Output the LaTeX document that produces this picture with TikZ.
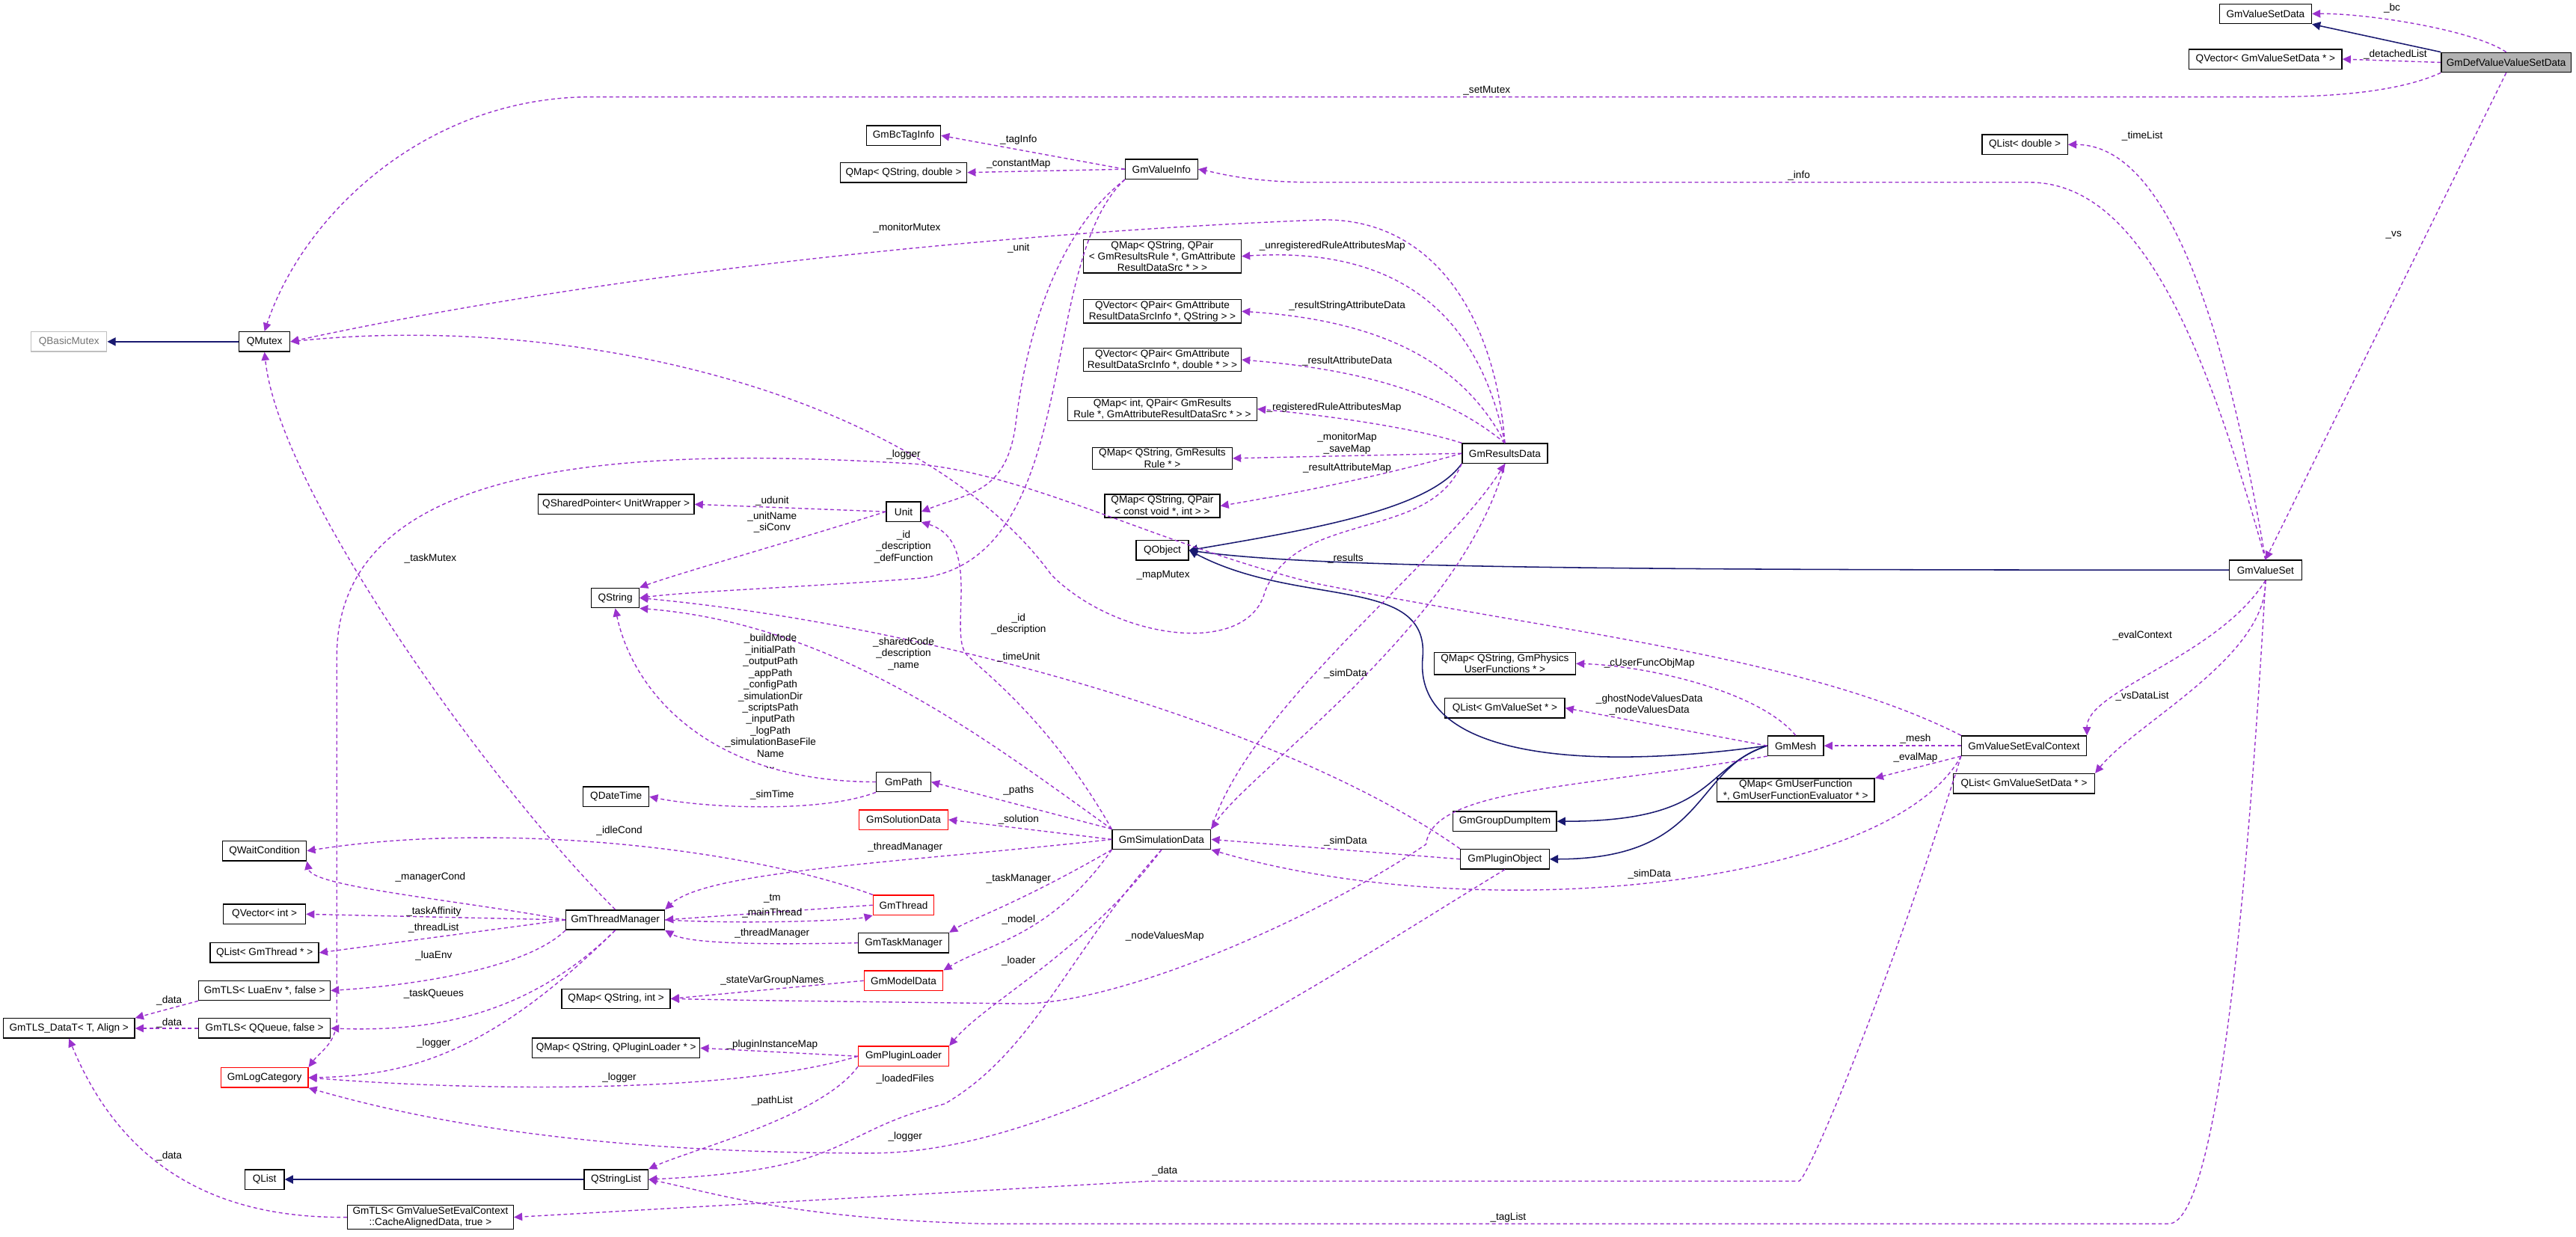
\documentclass[tikz,border=0pt]{standalone}
\usepackage{fontspec}
\setmainfont{Liberation Sans}
\usepackage{tikz}
\usetikzlibrary{arrows.meta}
\definecolor{memc}{HTML}{9A32CD}
\definecolor{inhc}{HTML}{191970}
\tikzset{
  cls/.style={draw=black, fill=white, inner sep=0.6pt, minimum height=0.3cm, align=center,
    font=\fontsize{4.4}{5}\selectfont, line width=0.45pt},
  redcls/.style={cls, draw=red},
  graycls/.style={cls, draw=black!25, text=black!55},
  curcls/.style={cls, fill=black!30},
  w/.style={minimum width=#1*0.025cm},
  mem/.style={draw=memc, dash pattern=on 1.6pt off 1.2pt, line width=0.45pt,
    -{Triangle[length=3.6pt,width=3.4pt]}},
  inh/.style={draw=inhc, line width=0.5pt, -{Triangle[length=3.6pt,width=3.6pt]}},
  lbl/.style={inner sep=0pt, align=center, font=\fontsize{4.4}{5}\selectfont}
}
\begin{document}
\begin{tikzpicture}[x=0.025cm, y=-0.025cm]
  \useasboundingbox (0,0) rectangle (1568,752.6);

  % ---------- Classes ----------
  \node[curcls, w=79] (defvsd) at (1525.5,38) {GmDefValueValueSetData};
  \node[cls, w=56] (vsdata) at (1379,8.4) {GmValueSetData};
  \node[cls, w=93] (qvecvsd) at (1379,36) {QVector< GmValueSetData * >};
  \node[cls, w=52] (qlistdbl) at (1232.5,88) {QList< double >};
  \node[cls, w=44] (valset) at (1379,347) {GmValueSet};
  \node[cls, w=52] (resdata) at (916,276) {GmResultsData};
  \node[cls, w=44] (valinfo) at (707,103) {GmValueInfo};
  \node[cls, w=45] (bctag) at (550,82.5) {GmBcTagInfo};
  \node[cls, w=77] (mapqsdbl) at (550,105) {QMap< QString, double >};
  \node[cls, w=96] (mapunreg) at (707.5,156) {QMap< QString, QPair\\< GmResultsRule *, GmAttribute\\ResultDataSrc * > >};
  \node[cls, w=96] (vecstr) at (707.5,189.5) {QVector< QPair< GmAttribute\\ResultDataSrcInfo *, QString > >};
  \node[cls, w=96] (vecdbl) at (707.5,219) {QVector< QPair< GmAttribute\\ResultDataSrcInfo *, double * > >};
  \node[cls, w=115] (mapreg) at (707.5,249) {QMap< int, QPair< GmResults\\Rule *, GmAttributeResultDataSrc * > >};
  \node[cls, w=85] (maprule) at (707.5,279) {QMap< QString, GmResults\\Rule * >};
  \node[cls, w=70] (mapvoid) at (707.5,308) {QMap< QString, QPair\\< const void *, int > >};
  \node[cls, w=32] (qobject) at (707.5,335) {QObject};
  \node[cls, w=31] (qmutex) at (161,208) {QMutex};
  \node[graycls, w=46] (qbasicmutex) at (42,208) {QBasicMutex};
  \node[cls, w=95] (qsptr) at (375,307) {QSharedPointer< UnitWrapper >};
  \node[cls, w=21] (unit) at (550,311.5) {Unit};
  \node[cls, w=29] (qstring) at (374.5,364) {QString};
  \node[cls, w=33] (gmpath) at (550,476) {GmPath};
  \node[cls, w=40] (qdatetime) at (375,485) {QDateTime};
  \node[redcls, w=54] (soldata) at (550,499) {GmSolutionData};
  \node[cls, w=60] (simdata) at (707,511) {GmSimulationData};
  \node[cls, w=51] (qwaitcond) at (161,518) {QWaitCondition};
  \node[redcls, w=37] (gmthread) at (550,551) {GmThread};
  \node[cls, w=60] (thrmgr) at (374.5,560) {GmThreadManager};
  \node[cls, w=50] (qvecint) at (161,556.5) {QVector< int >};
  \node[cls, w=55] (taskmgr) at (550,574) {GmTaskManager};
  \node[cls, w=66] (qlistthr) at (161,580) {QList< GmThread * >};
  \node[cls, w=80] (tlslua) at (161,603) {GmTLS< LuaEnv *, false >};
  \node[redcls, w=48] (modeldata) at (550,597) {GmModelData};
  \node[cls, w=66] (mapqsint) at (375,608) {QMap< QString, int >};
  \node[cls, w=80] (tlsdatat) at (42,626) {GmTLS\_DataT< T, Align >};
  \node[cls, w=80] (tlsqueue) at (161,626) {GmTLS< QQueue, false >};
  \node[cls, w=102] (mapplugin) at (375,638) {QMap< QString, QPluginLoader * >};
  \node[redcls, w=55] (pluginloader) at (550,643) {GmPluginLoader};
  \node[redcls, w=53] (logcat) at (161,656) {GmLogCategory};
  \node[cls, w=24] (qlist) at (161,718) {QList};
  \node[cls, w=39] (qstrlist) at (375,718) {QStringList};
  \node[cls, w=101] (tlseval) at (262,741) {GmTLS< GmValueSetEvalContext\\::CacheAlignedData, true >};
  \node[cls, w=86] (mapphys) at (916,404) {QMap< QString, GmPhysics\\UserFunctions * >};
  \node[cls, w=73] (qlistvs) at (916,431) {QList< GmValueSet * >};
  \node[cls, w=34] (gmmesh) at (1093,454) {GmMesh};
  \node[cls, w=76] (evalctx) at (1232,454) {GmValueSetEvalContext};
  \node[cls, w=96] (mapuserfn) at (1093,481) {QMap< GmUserFunction\\*, GmUserFunctionEvaluator * >};
  \node[cls, w=86] (qlistvsd) at (1232,477) {QList< GmValueSetData * >};
  \node[cls, w=63] (groupdump) at (916,500) {GmGroupDumpItem};
  \node[cls, w=54] (pluginobj) at (916,523) {GmPluginObject};

  % ---------- Inheritance ----------
  \draw[inh] (defvsd.north west) -- (vsdata.south east);
  \draw[inh] (qmutex) -- (qbasicmutex);
  \draw[inh] (resdata.south west) .. controls (870,310) and (800,322) .. (qobject.east);
  \draw[inh] (valset.west) .. controls (1000,347) and (800,346) .. (qobject.east);
  \draw[inh] (gmmesh.west) .. controls (960,470) and (860,460) .. (866,400) .. controls (870,350) and (790,370) .. (qobject.east);
  \draw[inh] (gmmesh.west) .. controls (1035,468) and (1045,500) .. (groupdump.east);
  \draw[inh] (gmmesh.west) .. controls (1030,468) and (1040,523) .. (pluginobj.east);
  \draw[inh] (qstrlist) -- (qlist);

  % ---------- Members: right part ----------
  \draw[mem] (defvsd.north) .. controls (1505,18) and (1440,8) .. (vsdata.east) node[lbl] at (1456,5) {\_bc};
  \draw[mem] (defvsd.west) -- (qvecvsd.east) node[lbl] at (1458,33) {\_detachedList};
  \draw[mem] (defvsd.south west) .. controls (1460,56) and (1420,59) .. (1380,59) -- (360,59) .. controls (260,59) and (185,130) .. (qmutex.north) node[lbl] at (905,55) {\_setMutex};
  \draw[mem] (defvsd.south) -- (valset.north) node[lbl] at (1457,143) {\_vs};
  \draw[mem] (valset.north) .. controls (1355,200) and (1320,88) .. (qlistdbl.east) node[lbl] at (1304,83) {\_timeList};
  \draw[mem] (valset.north) .. controls (1340,200) and (1300,111) .. (1235,111) -- (800,111) .. controls (760,111) and (740,105) .. (valinfo.east) node[lbl] at (1095,107) {\_info};
  \draw[mem] (valset.south) .. controls (1350,400) and (1270,420) .. (evalctx.north east) node[lbl] at (1304,387) {\_evalContext};
  \draw[mem] (valset.south) .. controls (1380,400) and (1300,440) .. (qlistvsd.north east) node[lbl] at (1304,424) {\_vsDataList};
  \draw[mem] (valset.south) .. controls (1365,600) and (1345,745) .. (1320,745) -- (600,745) .. controls (480,742) and (430,725) .. (qstrlist.east) node[lbl] at (918,741) {\_tagList};

  % GmValueInfo and Unit
  \draw[mem] (valinfo.west) -- (bctag.east) node[lbl] at (620,85) {\_tagInfo};
  \draw[mem] (valinfo.west) -- (mapqsdbl.east) node[lbl] at (620,100) {\_constantMap};
  \draw[mem] (valinfo.south west) .. controls (645,140) and (625,200) .. (618,260) .. controls (612,300) and (590,300) .. (unit.east) node[lbl] at (620,151) {\_unit};
  \draw[mem] (valinfo.south west) .. controls (630,160) and (660,340) .. (560,352) .. controls (480,358) and (420,360) .. (qstring.east) node[lbl] at (550,333) {\_id\\\_description\\\_defFunction};
  \draw[mem] (unit.west) -- (qsptr.east) node[lbl] at (470,305) {\_udunit};
  \draw[mem] (unit.west) .. controls (480,330) and (410,350) .. (qstring.north east) node[lbl] at (470,318) {\_unitName\\\_siConv};

  % GmResultsData
  \draw[mem] (resdata.north) .. controls (900,190) and (850,150) .. (mapunreg.east) node[lbl] at (811,150) {\_unregisteredRuleAttributesMap};
  \draw[mem] (resdata.north) .. controls (890,220) and (840,195) .. (vecstr.east) node[lbl] at (820,186) {\_resultStringAttributeData};
  \draw[mem] (resdata.north) .. controls (880,240) and (830,225) .. (vecdbl.east) node[lbl] at (820,220) {\_resultAttributeData};
  \draw[mem] (resdata.north west) .. controls (860,260) and (800,252) .. (mapreg.east) node[lbl] at (812,248) {\_registeredRuleAttributesMap};
  \draw[mem] (resdata.west) -- (maprule.east) node[lbl] at (820,270) {\_monitorMap\\\_saveMap};
  \draw[mem] (resdata.west) .. controls (840,290) and (790,300) .. (mapvoid.east) node[lbl] at (820,285) {\_resultAttributeMap};
  \draw[mem] (resdata.north) .. controls (910,190) and (870,130) .. (800,134) .. controls (650,140) and (400,160) .. (qmutex.east) node[lbl] at (552,139) {\_monitorMutex};
  \draw[mem] (resdata.south west) .. controls (870,330) and (790,310) .. (770,360) .. controls (760,400) and (680,390) .. (640,350) .. controls (560,240) and (350,190) .. (qmutex.east) node[lbl] at (708,350) {\_mapMutex};
  \draw[mem] (simdata.north east) .. controls (760,430) and (880,340) .. (resdata.south) node[lbl] at (819,340) {\_results};
  \draw[mem] (resdata.south) .. controls (890,380) and (760,470) .. (simdata.north east) node[lbl] at (819,410) {\_simData};

  % GmSimulationData
  \draw[mem] (pluginobj.north west) .. controls (780,440) and (560,380) .. (qstring.east) node[lbl] at (620,380) {\_id\\\_description};
  \draw[mem] (simdata.north west) .. controls (600,450) and (510,380) .. (qstring.south east) node[lbl] at (550,398) {\_sharedCode\\\_description\\\_name};
  \draw[mem] (simdata.north west) .. controls (640,440) and (600,410) .. (590,400) .. controls (575,390) and (600,330) .. (unit.south east) node[lbl] at (620,400) {\_timeUnit};
  \draw[mem] (gmpath.west) .. controls (430,476) and (385,420) .. (qstring.south) node[lbl] at (469,427) {\_buildMode\\\_initialPath\\\_outputPath\\\_appPath\\\_configPath\\\_simulationDir\\\_scriptsPath\\\_inputPath\\\_logPath\\\_simulationBaseFile\\Name\\...};
  \draw[mem] (gmpath.south west) .. controls (500,495) and (430,492) .. (qdatetime.east) node[lbl] at (470,484) {\_simTime};
  \draw[mem] (simdata.north west) -- (gmpath.east) node[lbl] at (620,481) {\_paths};
  \draw[mem] (simdata.west) -- (soldata.east) node[lbl] at (620,499) {\_solution};
  \draw[mem] (simdata.west) .. controls (550,525) and (430,530) .. (thrmgr.north east) node[lbl] at (551,516) {\_threadManager};
  \draw[mem] (simdata.south west) .. controls (620,550) and (590,560) .. (taskmgr.north east) node[lbl] at (620,535) {\_taskManager};
  \draw[mem] (simdata.south west) .. controls (640,570) and (600,575) .. (modeldata.north east) node[lbl] at (620,560) {\_model};
  \draw[mem] (simdata.south) .. controls (660,580) and (600,610) .. (pluginloader.north east) node[lbl] at (620,585) {\_loader};
  \draw[mem] (simdata.south) .. controls (650,580) and (630,640) .. (575,672) .. controls (505,690) and (520,712) .. (qstrlist.east) node[lbl] at (551,657) {\_loadedFiles};

  % GmThreadManager
  \draw[mem] (gmthread.north west) .. controls (450,515) and (300,500) .. (qwaitcond.east) node[lbl] at (377,506) {\_idleCond};
  \draw[mem] (thrmgr.west) .. controls (280,548) and (190,540) .. (qwaitcond.south east) node[lbl] at (262,534) {\_managerCond};
  \draw[mem] (thrmgr.west) -- (qvecint.east) node[lbl] at (264,555) {\_taskAffinity};
  \draw[mem] (thrmgr.west) -- (qlistthr.east) node[lbl] at (264,565) {\_threadList};
  \draw[mem] (thrmgr.south west) .. controls (320,590) and (250,600) .. (tlslua.east) node[lbl] at (264,582) {\_luaEnv};
  \draw[mem] (thrmgr.south) .. controls (320,620) and (260,628) .. (tlsqueue.east) node[lbl] at (264,605) {\_taskQueues};
  \draw[mem] (thrmgr.south) .. controls (300,640) and (250,655) .. (logcat.east) node[lbl] at (264,635) {\_logger};
  \draw[mem] (thrmgr.north) .. controls (300,480) and (170,300) .. (qmutex.south) node[lbl] at (262,340) {\_taskMutex};
  \draw[mem] (gmthread.west) -- (thrmgr.east) node[lbl] at (470,547) {\_tm};
  \draw[mem] (thrmgr.east) .. controls (460,563) and (520,560) .. (gmthread.south west) node[lbl] at (470,556) {\_mainThread};
  \draw[mem] (taskmgr.west) .. controls (470,575) and (420,575) .. (thrmgr.south east) node[lbl] at (470,568) {\_threadManager};
  \draw[mem] (modeldata.west) -- (mapqsint.east) node[lbl] at (470,597) {\_stateVarGroupNames};
  \draw[mem] (tlslua.south west) -- (tlsdatat.north east) node[lbl] at (103,609) {\_data};
  \draw[mem] (tlsqueue.west) -- (tlsdatat.east) node[lbl] at (103,623) {\_data};
  \draw[mem] (tlseval.west) .. controls (120,742) and (70,700) .. (tlsdatat.south) node[lbl] at (103,704) {\_data};

  % GmPluginLoader
  \draw[mem] (pluginloader.west) -- (mapplugin.east) node[lbl] at (470,636) {\_pluginInstanceMap};
  \draw[mem] (pluginloader.west) .. controls (450,665) and (300,665) .. (logcat.east) node[lbl] at (377,656) {\_logger};
  \draw[mem] (pluginloader.south west) .. controls (500,680) and (420,700) .. (qstrlist.north east) node[lbl] at (470,670) {\_pathList};

  % GmMesh, GmPluginObject, GmValueSetEvalContext
  \draw[mem] (pluginobj.south) .. controls (800,600) and (650,702) .. (530,702) .. controls (350,702) and (250,680) .. (logcat.south east) node[lbl] at (551,692) {\_logger};
  \draw[mem] (evalctx.north west) .. controls (1100,400) and (950,385) .. (800,355) .. controls (700,330) and (620,285) .. (550,282) .. controls (350,270) and (205,290) .. (205,400) -- (205,620) .. controls (205,635) and (195,640) .. (logcat.north east) node[lbl] at (550,277) {\_logger};
  \draw[mem] (pluginobj.west) -- (simdata.east) node[lbl] at (819,512) {\_simData};
  \draw[mem] (evalctx.south west) .. controls (1150,540) and (900,565) .. (simdata.south east) node[lbl] at (1004,532) {\_simData};
  \draw[mem] (gmmesh.north) .. controls (1070,420) and (1000,405) .. (mapphys.east) node[lbl] at (1004,404) {\_cUserFuncObjMap};
  \draw[mem] (gmmesh.west) -- (qlistvs.east) node[lbl] at (1004,429) {\_ghostNodeValuesData\\\_nodeValuesData};
  \draw[mem] (gmmesh.south west) .. controls (960,480) and (872,480) .. (868,514) .. controls (800,560) and (680,612) .. (620,611) -- (460,609) -- (mapqsint.east) node[lbl] at (709,570) {\_nodeValuesMap};
  \draw[mem] (evalctx.west) -- (gmmesh.east) node[lbl] at (1166,450) {\_mesh};
  \draw[mem] (evalctx.south west) -- (mapuserfn.north east) node[lbl] at (1166,461) {\_evalMap};
  \draw[mem] (evalctx.south west) .. controls (1150,600) and (1100,719) .. (1095,719) -- (700,719) -- (tlseval.east) node[lbl] at (709,713) {\_data};
\end{tikzpicture}
\end{document}
